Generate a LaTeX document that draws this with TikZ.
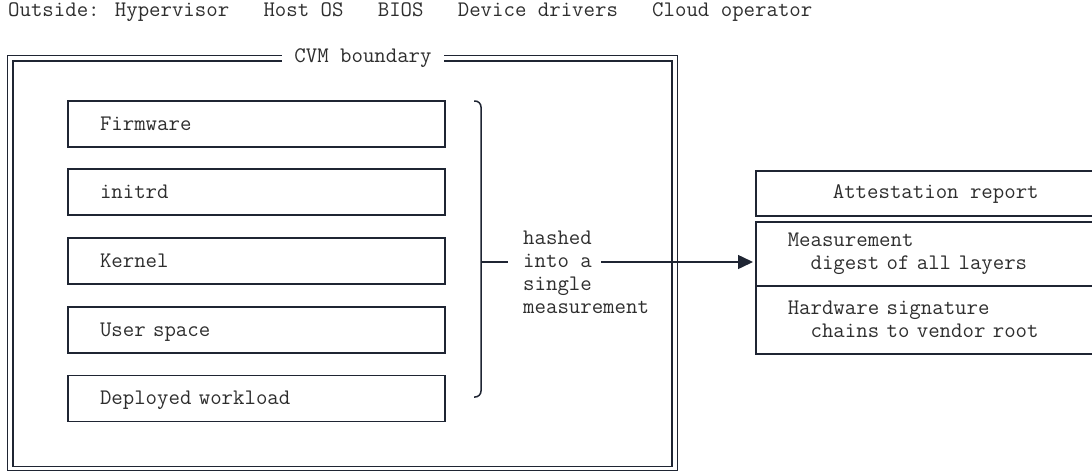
\documentclass[tikz,border=0pt]{standalone}
\usepackage{fontspec}
\usetikzlibrary{arrows.meta}
\definecolor{ink}{HTML}{1F2533}
\definecolor{txt}{HTML}{2E2E2E}
\begin{document}
\begin{tikzpicture}[x=1pt,y=-1pt,
  every node/.style={font=\ttfamily\fontsize{22.2}{23}\selectfont, text=txt},
  line/.style={draw=ink, line width=1.5pt},
  layer/.style={line, minimum width=377pt, minimum height=46pt,
    text width=313pt, align=left, inner xsep=32pt, inner ysep=0pt,
    text height=13pt, text depth=1pt},
  field/.style={line, anchor=north west, minimum width=360pt,
    text width=296pt, align=left, inner xsep=32pt, inner ysep=0pt},
]
\useasboundingbox (0,0) rectangle (1092,472);
\clip (0,0) rectangle (1092,472);

% what lies outside the trust boundary
\node[anchor=base west, inner sep=0pt] (outside) at (8,16)
  {Outside: Hypervisor~~~Host OS~~~BIOS~~~Device drivers~~~Cloud operator};

% CVM boundary, double frame
\draw[ink, line width=1.2pt] (7.5,55.5) rectangle (677.5,470.5);
\draw[ink, line width=1.8pt] (13,61) rectangle (672,466.5);
\node[fill=white, inner xsep=12pt, inner ysep=3pt] (cvm) at (363,58) {CVM boundary};

% measured layers
\node[layer] (fw)   at (256.5,124)   {Firmware};
\node[layer] (ird)  at (256.5,192)   {initrd};
\node[layer] (kern) at (256.5,261)   {Kernel};
\node[layer] (usr)  at (256.5,330)   {User space};
\node[layer] (wl)   at (256.5,398.5) {Deployed workload};

% bracket gathering the layers
\coordinate (btop) at (474,101);
\coordinate (bbot) at (474,397);
\coordinate (bmid) at (481,262);
\draw[ink, line width=1.5pt, rounded corners=6pt]
  (btop) -- (481,101) -- (481,397) -- (bbot);
\coordinate (tickend) at (508,262);
\draw[line] (bmid) -- (tickend);

\node[anchor=west, align=left, inner sep=0pt] (hash) at (523,272)
  {hashed\\into a\\single\\measurement};

% attestation report
\node[line, anchor=north west, minimum width=360pt, minimum height=45pt,
  inner sep=0pt, text height=13pt, text depth=2pt] (rhead) at (755,170)
  {Attestation report};
\node[field, minimum height=64pt] (meas) at (755,221)
  {Measurement\\\phantom{xx}digest of all layers};
\node[field, minimum height=68pt] (sig) at (755,285)
  {Hardware signature\\\phantom{xx}chains to vendor root};

% arrow into the report
\coordinate (astart) at (601,262);
\draw[line, -{Triangle[length=15pt,width=14pt]}, shorten >=2pt]
  (astart) -- (astart -| meas.west);
\end{tikzpicture}
\end{document}
